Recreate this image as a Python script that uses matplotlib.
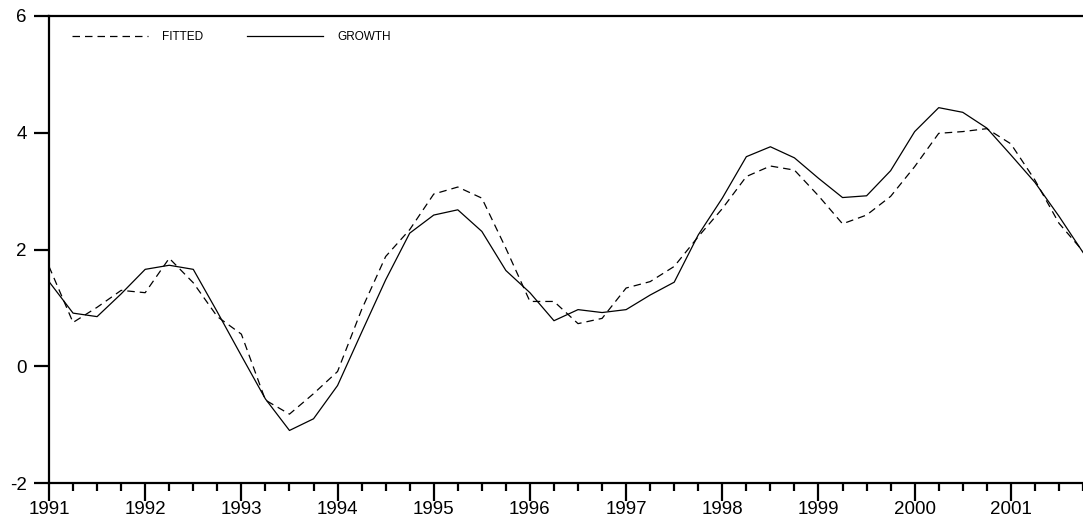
import matplotlib
matplotlib.use("Agg")
import matplotlib.pyplot as plt
from matplotlib.ticker import MultipleLocator
import numpy as np

plt.rcParams['font.family'] = ['Liberation Sans', 'DejaVu Sans']
plt.rcParams['axes.unicode_minus'] = False

# quarterly data, 1991Q1 .. 2001Q4
start_year = 1991
growth = [1.45, 0.91, 0.85, 1.24, 1.66, 1.73, 1.66, 0.93,
          0.18, -0.56, -1.10, -0.90, -0.33, 0.58, 1.48, 2.28,
          2.59, 2.68, 2.31, 1.64, 1.26, 0.78, 0.97, 0.92,
          0.97, 1.22, 1.44, 2.25, 2.88, 3.59, 3.76, 3.57,
          3.22, 2.89, 2.92, 3.35, 4.02, 4.43, 4.35, 4.08,
          3.62, 3.15, 2.57, 1.95]
fitted = [1.71, 0.75, 1.01, 1.30, 1.26, 1.85, 1.43, 0.85,
          0.55, -0.58, -0.82, -0.47, -0.09, 0.97, 1.88, 2.34,
          2.95, 3.07, 2.88, 2.02, 1.11, 1.11, 0.73, 0.82,
          1.34, 1.45, 1.71, 2.22, 2.70, 3.25, 3.43, 3.36,
          2.92, 2.44, 2.59, 2.91, 3.42, 3.99, 4.02, 4.07,
          3.81, 3.19, 2.45, 1.97]
year_labels = [str(y) for y in range(1991, 2002)]

t = start_year + np.arange(len(growth)) * 0.25

fig = plt.figure(figsize=(10.83, 5.2), dpi=100)
ax = fig.add_axes([49 / 1083, 1 - 483 / 520, 1 - 49 / 1083, 467 / 520])

ax.plot(t, fitted, color='black', lw=0.9, dashes=(6, 4), label='FITTED')
ax.plot(t, growth, color='black', lw=0.9, label='GROWTH')

ax.set_xlim(t[0], t[-1])
ax.set_ylim(-2, 6)
ax.set_xticks(range(1991, 2002))
ax.set_xticklabels(year_labels)
ax.xaxis.set_minor_locator(MultipleLocator(0.25))
ax.set_yticks([-2, 0, 2, 4, 6])

ax.spines['right'].set_visible(False)
for s in ['left', 'bottom', 'top']:
    ax.spines[s].set_linewidth(1.6)

ax.tick_params(axis='x', which='major', direction='out', length=13, width=1.6,
               labelsize=13.5, pad=0)
ax.tick_params(axis='x', which='minor', direction='out', length=6, width=1.6)
ax.tick_params(axis='y', which='major', direction='out', length=11, width=1.6,
               labelsize=13.5, pad=5)

ax.legend(loc='center left', bbox_to_anchor=(23 / 1034, 1 - 21 / 467), ncol=2,
          frameon=False, fontsize=8.5, borderpad=0, borderaxespad=0,
          handlelength=6.4, handletextpad=1.25, columnspacing=3.7)

fig.savefig('out.png', dpi=100)
